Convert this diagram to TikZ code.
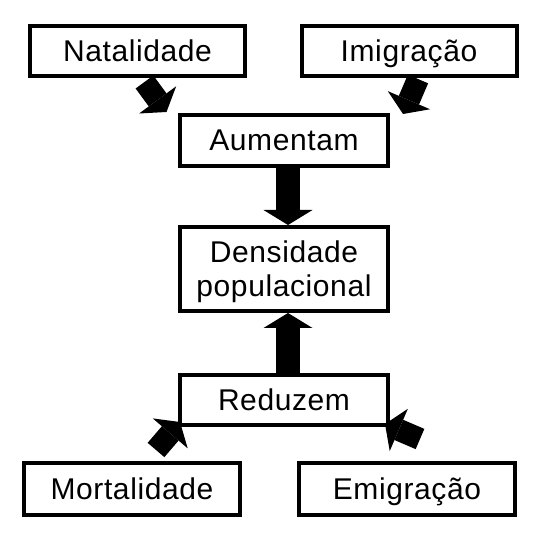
\documentclass[tikz,border=0pt]{standalone}
\usepackage{fontspec}
\setmainfont[LetterSpace=2]{Liberation Sans}
\usetikzlibrary{arrows.meta,calc,backgrounds}

\begin{document}
\begin{tikzpicture}[x=1pt, y=1pt,
        caixa/.style={draw, line width=4pt, fill=white, minimum width=215pt, minimum height=50pt, inner sep=0pt, align=center, text height=21pt, text depth=0pt, font=\fontsize{30}{34}\selectfont},
        seta/.style={line width=22pt, -{Triangle[length=15pt, width=46pt, line width=0pt]}},
        setav/.style={line width=24pt, -{Triangle[length=15pt, width=49pt, line width=0pt]}}
    ]
    \useasboundingbox (0,0) rectangle (557,549);
    % Fatores que aumentam
    \node[caixa] (nat) at (137.5,498) {Natalidade};
    \node[caixa] (imi) at (409,498) {Imigração};
    \node[caixa, minimum width=208pt, minimum height=51pt] (aum) at (284,408.5) {Aumentam};
    % Centro
    \node[caixa, minimum width=208pt, minimum height=84pt, text height=55pt] (dens) at (284,280) {Densidade\\populacional};
    % Fatores que reduzem
    \node[caixa, minimum width=208pt] (red) at (284,149) {Reduzem};
    \node[caixa, minimum width=216pt, minimum height=52pt] (mort) at (132,60) {Mortalidade};
    \node[caixa, minimum width=216pt, minimum height=52pt] (emi) at (407,60) {Emigração};
    % Setas
    \begin{scope}[on background layer]
    \draw[seta] ($(nat.south)+(7,-4)$) -- ($(aum.north west)+(-11.5,1)$);
    \draw[seta] ($(imi.south)+(9,-1)$) -- ($(aum.north east)+(13,-1)$);
    \draw[setav] ($(aum.south)+(4,0)$) -- ($(dens.north)+(4,0)$);
    \draw[setav] ($(red.north)+(4,0)$) -- ($(dens.south)+(4,0)$);
    \draw[seta] ($(mort.north)+(24,11)$) -- ($(red.south west)+(2,5)$);
    \draw[seta] ($(emi.north)+(13,22)$) -- ($(red.south east)+(-5,3)$);
    \end{scope}
\end{tikzpicture}
\end{document}
